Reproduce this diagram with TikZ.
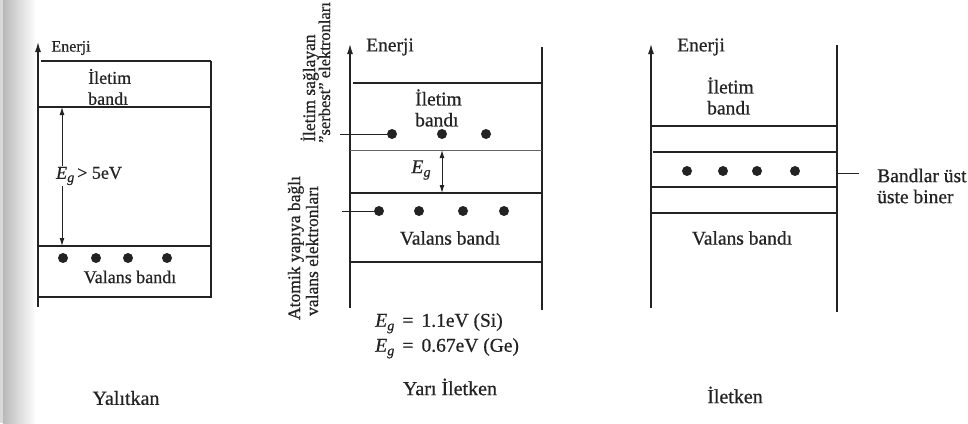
\documentclass[tikz,border=0pt]{standalone}
\usepackage{fontspec}
\setmainfont{Liberation Serif}[FakeBold=0.6]
\usetikzlibrary{arrows.meta}
\definecolor{ink}{RGB}{35,35,35}
\newcommand{\Egsym}{\textit{E}\kern0.01em\raisebox{-0.4ex}{\fontsize{14}{14}\selectfont\textit{g}}}
\begin{document}
\begin{tikzpicture}[x=1pt,y=-1pt,
  band/.style={draw=ink, line width=1.2pt},
  faint/.style={draw=ink!70, line width=0.8pt},
  thick band/.style={draw=ink, line width=1.9pt},
  axis/.style={draw=ink, line width=1.2pt, -{Latex[length=10pt,width=6pt]}},
  gap/.style={draw=ink, line width=1pt, {Latex[length=8pt,width=5pt]}-{Latex[length=8pt,width=5pt]}},
  pointer/.style={draw=ink, line width=1pt},
  txt/.style={font=\fontsize{18}{21}\selectfont, inner sep=0pt, text=ink},
  big/.style={font=\fontsize{19.5}{21}\selectfont, inner sep=0pt, text=ink},
  title/.style={font=\fontsize{20}{22}\selectfont, inner sep=0pt, text=ink},
  rot/.style={font=\fontsize{17.5}{20}\selectfont, inner sep=0pt, text=ink, rotate=90},
  small/.style={font=\fontsize{16}{19}\selectfont, inner sep=0pt, text=ink},
  dot/.style={circle, fill=ink, minimum size=10pt, inner sep=0pt}]
\useasboundingbox (0,0) rectangle (968,423);
\fill[white] (0,0) rectangle (968,423);
\shade[left color=gray!55, right color=white] (3,0) rectangle (36,423);
\fill[gray!30] (0,0) rectangle (3,423);

% ---------- Panel 1: Yalitkan ----------
\coordinate (a1s) at (38,307);
\coordinate (a1e) at (38,42);
\draw[axis] (a1s) -- (a1e);
\draw[band] (211,61) -- (211,298);
\draw[band] (41,61) -- (211,61);
\draw[band] (38,107) -- (211,107);
\draw[band] (38,246) -- (211,246);
\draw[band] (38,297) -- (211,297);
\node[small] (en1) at (71,48) {Enerji};
\node[txt, align=left, anchor=west] (il1) at (88,87) {İletim\\bandı};
\coordinate (g1t) at (62,107);
\coordinate (g1b) at (62,246);
\draw[gap] (g1t) -- (g1b);
\node[txt, fill=white, inner sep=1pt] (eg1) at (89,176) {\Egsym\,>\ 5eV};
\foreach \x/\n in {63/1,96/2,128/3,167/4} \node[dot] (d1\n) at (\x,258) {};
\node[txt] (va1) at (130,277) {Valans bandı};
\node[title] (t1) at (126,398) {Yalıtkan};

% ---------- Panel 2: Yari Iletken ----------
\coordinate (a2s) at (350,308);
\coordinate (a2e) at (350,44);
\draw[axis] (a2s) -- (a2e);
\draw[band] (542,47) -- (542,310);
\draw[band] (353,83) -- (542,83);
\draw[faint] (350,150) -- (542,150);
\draw[thick band] (350,193) -- (542,193);
\draw[band] (350,262) -- (542,262);
\node[big] (en2) at (390,47) {Enerji};
\node[big, align=left, anchor=west] (il2) at (415,108) {İletim\\bandı};
\foreach \x/\n in {392/1,442/2,486/3} \node[dot] (c2\n) at (\x,134) {};
\coordinate (p2a) at (340,134);
\draw[pointer] (p2a) -- (c21);
\coordinate (g2t) at (442,150);
\coordinate (g2b) at (442,193);
\draw[gap] (g2t) -- (g2b);
\node[big] (eg2) at (421,170) {\Egsym};
\foreach \x/\n in {379/1,419/2,463/3,504/4} \node[dot] (v2\n) at (\x,211) {};
\coordinate (p2b) at (342,211);
\draw[pointer] (p2b) -- (v21);
\node[big] (va2) at (450,238) {Valans bandı};
\node[big, align=left, anchor=north west, font=\fontsize{19.5}{25}\selectfont] (f2) at (375,313) {\Egsym\ \,=\, 1.1eV (Si)\\\Egsym\ \,=\, 0.67eV (Ge)};
\node[title] (t2) at (450,387) {Yarı İletken};
\node[rot, anchor=base west] (r1) at (315,142) {İletim sağlayan};
\node[rot, anchor=base west, font=\fontsize{16.5}{20}\selectfont] (r2) at (330,143) {"serbest" elektronları};
\node[rot, anchor=base] (r3) at (300,248) {Atomik yapıya bağlı};
\node[rot, anchor=base] (r4) at (318,251) {valans elektronları};

% ---------- Panel 3: Iletken ----------
\coordinate (a3s) at (651,308);
\coordinate (a3e) at (651,44);
\draw[axis] (a3s) -- (a3e);
\draw[band] (837,45) -- (837,312);
\draw[band] (651,126) -- (837,126);
\draw[band] (653,152) -- (837,152);
\draw[band] (651,187) -- (837,187);
\draw[band] (651,213) -- (837,213);
\node[big] (en3) at (701,47) {Enerji};
\node[big, align=left, anchor=west] (il3) at (707,96) {İletim\\bandı};
\foreach \x/\n in {687/1,723/2,757/3,795/4} \node[dot] (c3\n) at (\x,171) {};
\coordinate (p3a) at (837,173);
\node[big, align=left, anchor=west] (bl3) at (877,186) {Bandlar üst\\üste biner};
\coordinate (p3b) at (859,173);
\draw[pointer] (p3a) -- (p3b);
\node[big] (va3) at (742,238) {Valans bandı};
\node[title] (t3) at (735,395) {İletken};
\end{tikzpicture}
\end{document}
